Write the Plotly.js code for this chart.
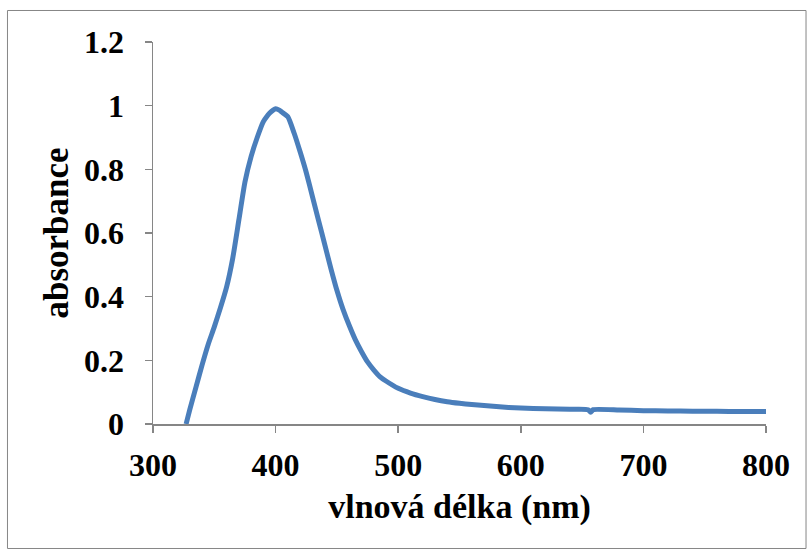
<!DOCTYPE html>
<html>
<head>
<meta charset="utf-8">
<script src="https://cdn.plot.ly/plotly-3.0.1.min.js"></script>
<style>html,body{margin:0;padding:0;background:#fff;}#chart{width:808px;height:551px;}</style>
</head>
<body>
<div id="chart"></div>
<script>
const wavelength = [327, 330, 335, 340, 345, 350, 355, 360, 365, 370, 375, 380, 385, 390, 393, 395, 398, 400, 403, 405, 410, 415, 420, 425, 430, 435, 440, 445, 450, 455, 460, 465, 470, 475, 480, 485, 490, 500, 510, 520, 530, 540, 550, 560, 570, 580, 590, 600, 620, 640, 655, 657, 659, 680, 700, 720, 740, 760, 780, 800];
const absorbance = [0, 0.045, 0.115, 0.185, 0.25, 0.305, 0.365, 0.43, 0.52, 0.64, 0.76, 0.84, 0.90, 0.95, 0.967, 0.976, 0.986, 0.99, 0.986, 0.98, 0.965, 0.915, 0.855, 0.79, 0.715, 0.64, 0.565, 0.49, 0.42, 0.36, 0.31, 0.265, 0.228, 0.195, 0.17, 0.149, 0.135, 0.112, 0.097, 0.086, 0.077, 0.07, 0.065, 0.061, 0.058, 0.055, 0.052, 0.05, 0.048, 0.046, 0.045, 0.037, 0.045, 0.044, 0.042, 0.041, 0.040, 0.040, 0.039, 0.039];
const xTitle = "vlnová délka (nm)";
const yTitle = "absorbance";

const fontFam = "Liberation Serif, Times New Roman, serif";
const trace = {
  x: wavelength, y: absorbance, type: "scatter", mode: "lines",
  line: {color: "#4A7EBB", width: 5, shape: "spline", smoothing: 0.5},
  hoverinfo: "skip"
};
const axisCommon = {
  showgrid: false, zeroline: false, showline: true, linecolor: "#868686", linewidth: 1.5,
  ticks: "outside", ticklen: 7, tickwidth: 1.5, tickcolor: "#868686",
  tickfont: {family: fontFam, size: 32, color: "#000", weight: "bold"}
};
const layout = {
  width: 808, height: 551,
  margin: {l: 153, r: 42, t: 42, b: 127},
  paper_bgcolor: "#fff", plot_bgcolor: "#fff",
  showlegend: false,
  xaxis: Object.assign({}, axisCommon, {
    range: [300, 800], dtick: 100, tick0: 300, ticklabelstandoff: 5,
    title: {text: "<b>" + xTitle + "</b>", font: {family: fontFam, size: 34, color: "#000"}, standoff: 12}
  }),
  yaxis: Object.assign({}, axisCommon, {
    range: [0, 1.2], dtick: 0.2, tick0: 0, ticklabelstandoff: 14,
    title: {text: "<b>" + yTitle + "</b>", font: {family: fontFam, size: 35, color: "#000"}, standoff: 5}
  }),
  shapes: [{
    type: "rect", xref: "paper", yref: "paper",
    x0: -0.2374, x1: 1.0653, y0: -0.3259, y1: 1.0825,
    line: {color: "#868686", width: 1}
  }]
};
Plotly.newPlot("chart", [trace], layout, {displayModeBar: false, staticPlot: true});
</script>
</body>
</html>
